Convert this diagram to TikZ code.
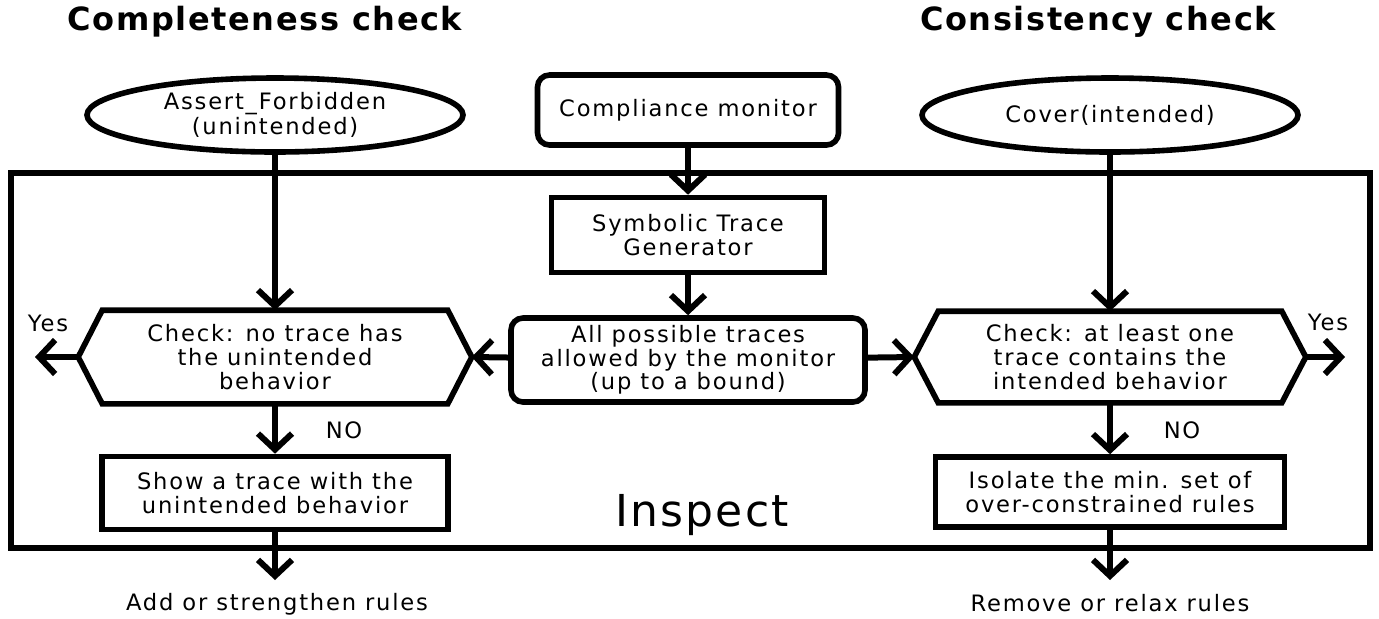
\documentclass[tikz,border=0pt]{standalone}
\usepackage{fontspec}
\setmainfont{DejaVu Sans}[LetterSpace=8]
\newfontfamily\headfont{DejaVu Sans}[LetterSpace=5]
\usetikzlibrary{arrows.meta,shapes.geometric}

\tikzset{
  base/.style={line width=2.8pt, align=center, inner sep=0pt,
    font=\fontsize{11.3pt}{11.8pt}\selectfont},
  oval/.style={base, draw, ellipse, minimum width=188pt, minimum height=37pt,
    font=\fontsize{11.3pt}{12.6pt}\selectfont},
  roundbox/.style={base, draw, rounded corners=6pt},
  squarebox/.style={base, draw},
  hexbody/.style={base},
  hexline/.style={line width=2.8pt, line join=miter},
  flow/.style={line width=3pt, -{Straight Barb[length=8pt,width=17pt]}},
  label/.style={font=\fontsize{11.3pt}{11.8pt}\selectfont},
  heading/.style={font=\headfont\fontsize{16pt}{18pt}\selectfont\bfseries},
}

\begin{document}
\begin{tikzpicture}[x=0.5pt,y=-0.5pt]
\useasboundingbox (0,0) rectangle (1379,618);

% headings
\node[heading] (h1) at (265,22) {Completeness check};
\node[heading] (h2) at (1098,22) {Consistency check};

% inspection frame
\draw[line width=2.8pt] (11,173) rectangle (1370,548);
\node[font=\headfont\fontsize{22pt}{24pt}\selectfont] (insp) at (702,515) {Inspect};

% top row
\node[oval] (ell1) at (275,115) {Assert\_Forbidden\\(unintended)};
\node[roundbox, minimum width=150.5pt, minimum height=35pt] (cm) at (688,110) {Compliance monitor};
\node[oval] (ell2) at (1110,115) {Cover(intended)};

% middle column
\node[squarebox, minimum width=136.5pt, minimum height=37.5pt] (stg) at (688,235) {Symbolic Trace\\Generator};
\node[roundbox, minimum width=177pt, minimum height=42pt] (all) at (688,360) {All possible traces\\allowed by the monitor\\(up to a bound)};

% decision hexagons
\node[hexbody, minimum width=170pt, minimum height=44pt] (hex1) at (275,357) {Check: no trace has\\the unintended\\behavior};
\coordinate (hex1w) at ([xshift=-12pt]hex1.west);
\coordinate (hex1e) at ([xshift=12pt]hex1.east);
\draw[hexline] (hex1.north west) -- (hex1.north east) -- (hex1e) -- (hex1.south east) -- (hex1.south west) -- (hex1w) -- cycle;

\node[hexbody, minimum width=169pt, minimum height=43pt] (hex2) at (1110,357) {Check: at least one\\trace contains the\\intended behavior};
\coordinate (hex2w) at ([xshift=-12pt]hex2.west);
\coordinate (hex2e) at ([xshift=12pt]hex2.east);
\draw[hexline] (hex2.north west) -- (hex2.north east) -- (hex2e) -- (hex2.south east) -- (hex2.south west) -- (hex2w) -- cycle;

% result boxes
\node[squarebox, minimum width=173pt, minimum height=36.5pt] (box1) at (275,493) {Show a trace with the\\unintended behavior};
\node[squarebox, minimum width=174.5pt, minimum height=35pt] (box2) at (1110,492) {Isolate the min. set of\\over-constrained rules};

% outcomes
\coordinate (out1) at (275,580);
\coordinate (out2) at (1110,580);
\node[label] (act1) at (277,604) {Add or strengthen rules};
\node[label] (act2) at (1110,603) {Remove or relax rules};
\coordinate (yes1) at (35,357);
\coordinate (yes2) at (1345,357);
\node[label] (lyes1) at (48,323) {Yes};
\node[label] (lyes2) at (1328,322) {Yes};
\node[label] (lno1) at (344,430) {NO};
\node[label] (lno2) at (1182,430) {NO};

% connectors
\draw[flow] (cm) -- (stg);
\draw[flow] (stg) -- (all);
\draw[flow] (all) -- (hex1e);
\draw[flow] (all) -- (hex2w);
\draw[flow] (ell1) -- (hex1);
\draw[flow] (ell2) -- (hex2);
\draw[flow] (hex1w) -- (yes1);
\draw[flow] (hex2e) -- (yes2);
\draw[flow] (hex1) -- (box1);
\draw[flow] (hex2) -- (box2);
\draw[flow] (box1) -- (out1);
\draw[flow] (box2) -- (out2);
\end{tikzpicture}
\end{document}
